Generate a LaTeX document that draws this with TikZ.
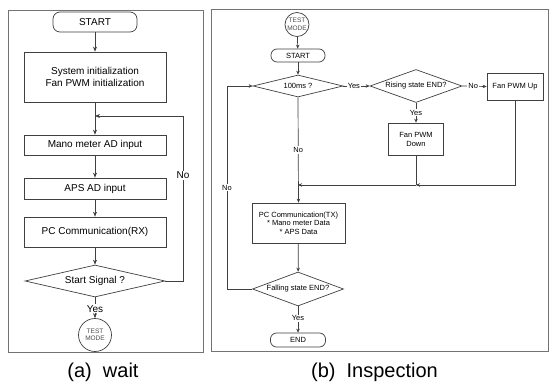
\documentclass[tikz,border=0pt]{standalone}
\usepackage{fontspec}
\setmainfont{Liberation Sans}
\usetikzlibrary{shapes.geometric,arrows.meta}
\begin{document}
\begin{tikzpicture}[x=1pt,y=-1pt,
  ln/.style={draw=black!75, line width=0.7pt},
  arr/.style={ln, -{Stealth[length=5pt,width=4pt]}},
  arrs/.style={ln, -{Stealth[length=4pt,width=3.5pt]}},
  frame/.style={draw=black!55, line width=0.9pt},
  bx/.style={draw=black!75, line width=0.7pt, fill=white, rectangle, inner sep=1pt, align=center},
  term/.style={bx, rounded corners=7pt},
  dia/.style={draw=black!75, line width=0.7pt, fill=white, diamond, inner sep=0pt, aspect=4},
  cir/.style={draw=black!75, line width=0.7pt, fill=white, circle, inner sep=0pt, align=center, text=black!70},
  fa/.style={font=\fontsize{10}{12}\selectfont},
  fb/.style={font=\fontsize{7.5}{9}\selectfont},
  lbla/.style={fill=white, inner sep=1pt, font=\fontsize{10}{12}\selectfont},
  lblb/.style={fill=white, inner sep=1pt, font=\fontsize{7.5}{9}\selectfont},
  captxt/.style={font=\fontsize{20}{24}\selectfont}
]
\useasboundingbox (0,0) rectangle (550,383);
\fill[white] (0,0) rectangle (550,383);
% frames
\draw[frame] (8,10) rectangle (203,352);
\draw[frame] (211,9) rectangle (548,351);

% ---------- (a) wait ----------
\node[term, fa, minimum width=84pt, minimum height=20pt] (start) at (95,22) {START};
\node[bx, fa, minimum width=142pt, minimum height=50pt] (init) at (95,77) {System initialization\\Fan PWM initialization};
\node[bx, fa, minimum width=142pt, minimum height=20pt] (mano) at (95,145) {Mano meter AD input};
\node[bx, fa, minimum width=142pt, minimum height=21pt] (aps) at (95,188.5) {APS AD input};
\node[bx, fa, minimum width=142pt, minimum height=30pt] (pcrx) at (95,232) {PC Communication(RX)};
\node[dia, fa, minimum width=140pt, minimum height=32pt] (sig) at (95,281) {Start Signal ?};
\node[cir, font=\fontsize{6.5}{7.5}\selectfont, minimum size=33pt] (tm1) at (95,335) {TEST\\MODE};
\coordinate (ja) at (95,116);
\coordinate (ca) at (183,281);

\draw[arr] (start) -- (init);
\draw[arr] (init) -- (mano);
\draw[arr] (mano) -- (aps);
\draw[arr] (aps) -- (pcrx);
\draw[arr] (pcrx) -- (sig);
\draw[arr] (sig.east) -- (ca) |- (ja) node[lbla, pos=0.32] {No};
\draw[arr] (sig.south) -- node[lbla, pos=0.55] {Yes} (tm1.north);

% ---------- (b) Inspection ----------
\node[cir, font=\fontsize{6.5}{7.5}\selectfont, minimum size=24pt] (tm2) at (297,24.5) {TEST\\MODE};
\node[term, fb, minimum width=54pt, minimum height=13pt, rounded corners=6pt] (start2) at (298,55.5) {START};
\node[dia, fb, minimum width=90pt, minimum height=22pt] (d100) at (298,86) {100ms ?};
\node[dia, fb, minimum width=92pt, minimum height=33pt] (rise) at (416,86) {Rising state END?};
\node[bx, fb, minimum width=56pt, minimum height=27pt] (up) at (515,86.5) {Fan PWM Up};
\node[bx, fb, minimum width=55pt, minimum height=32pt] (down) at (416,139) {Fan PWM\\Down};
\node[bx, fb, minimum width=93pt, minimum height=40pt, font=\fontsize{7.5}{8.5}\selectfont] (tx) at (298.5,223) {PC Communication(TX)\\* Mano meter Data\\* APS Data};
\node[dia, fb, minimum width=91pt, minimum height=34pt] (fall) at (298,289) {Falling state END?};
\node[term, fb, minimum width=55pt, minimum height=14pt, rounded corners=6pt] (end) at (298,340) {END};
\coordinate (jb) at (416,185);
\coordinate (jc) at (298,185);
\coordinate (cb) at (227,289);

\draw[arrs] (tm2) -- (start2);
\draw[arrs] (start2) -- (d100);
\draw[arrs] (d100.east) -- node[lblb, pos=0.4] {Yes} (rise.west);
\draw[arrs] (rise.east) -- node[lblb, pos=0.45] {No} (up.west);
\draw[arrs] (rise.south) -- node[lblb, pos=0.5] {Yes} (down.north);
\draw[ln] (down.south) -- (jb);
\draw[arrs] (up.south) |- (jb);
\draw[arrs] (jb) -- (jc);
\draw[arrs] (d100.south) -- node[lblb, pos=0.5] {No} (tx.north);
\draw[arrs] (tx) -- (fall);
\draw[arrs] (fall.south) -- node[lblb, pos=0.45] {Yes} (end.north);
\draw[arrs] (fall.west) -- (cb) |- (d100.west) node[lblb, pos=0.25] {No};

% captions
\node[captxt] (capa) at (103,372) {(a)~~wait};
\node[captxt] (capb) at (374.5,372) {(b)~~Inspection};
\end{tikzpicture}
\end{document}
